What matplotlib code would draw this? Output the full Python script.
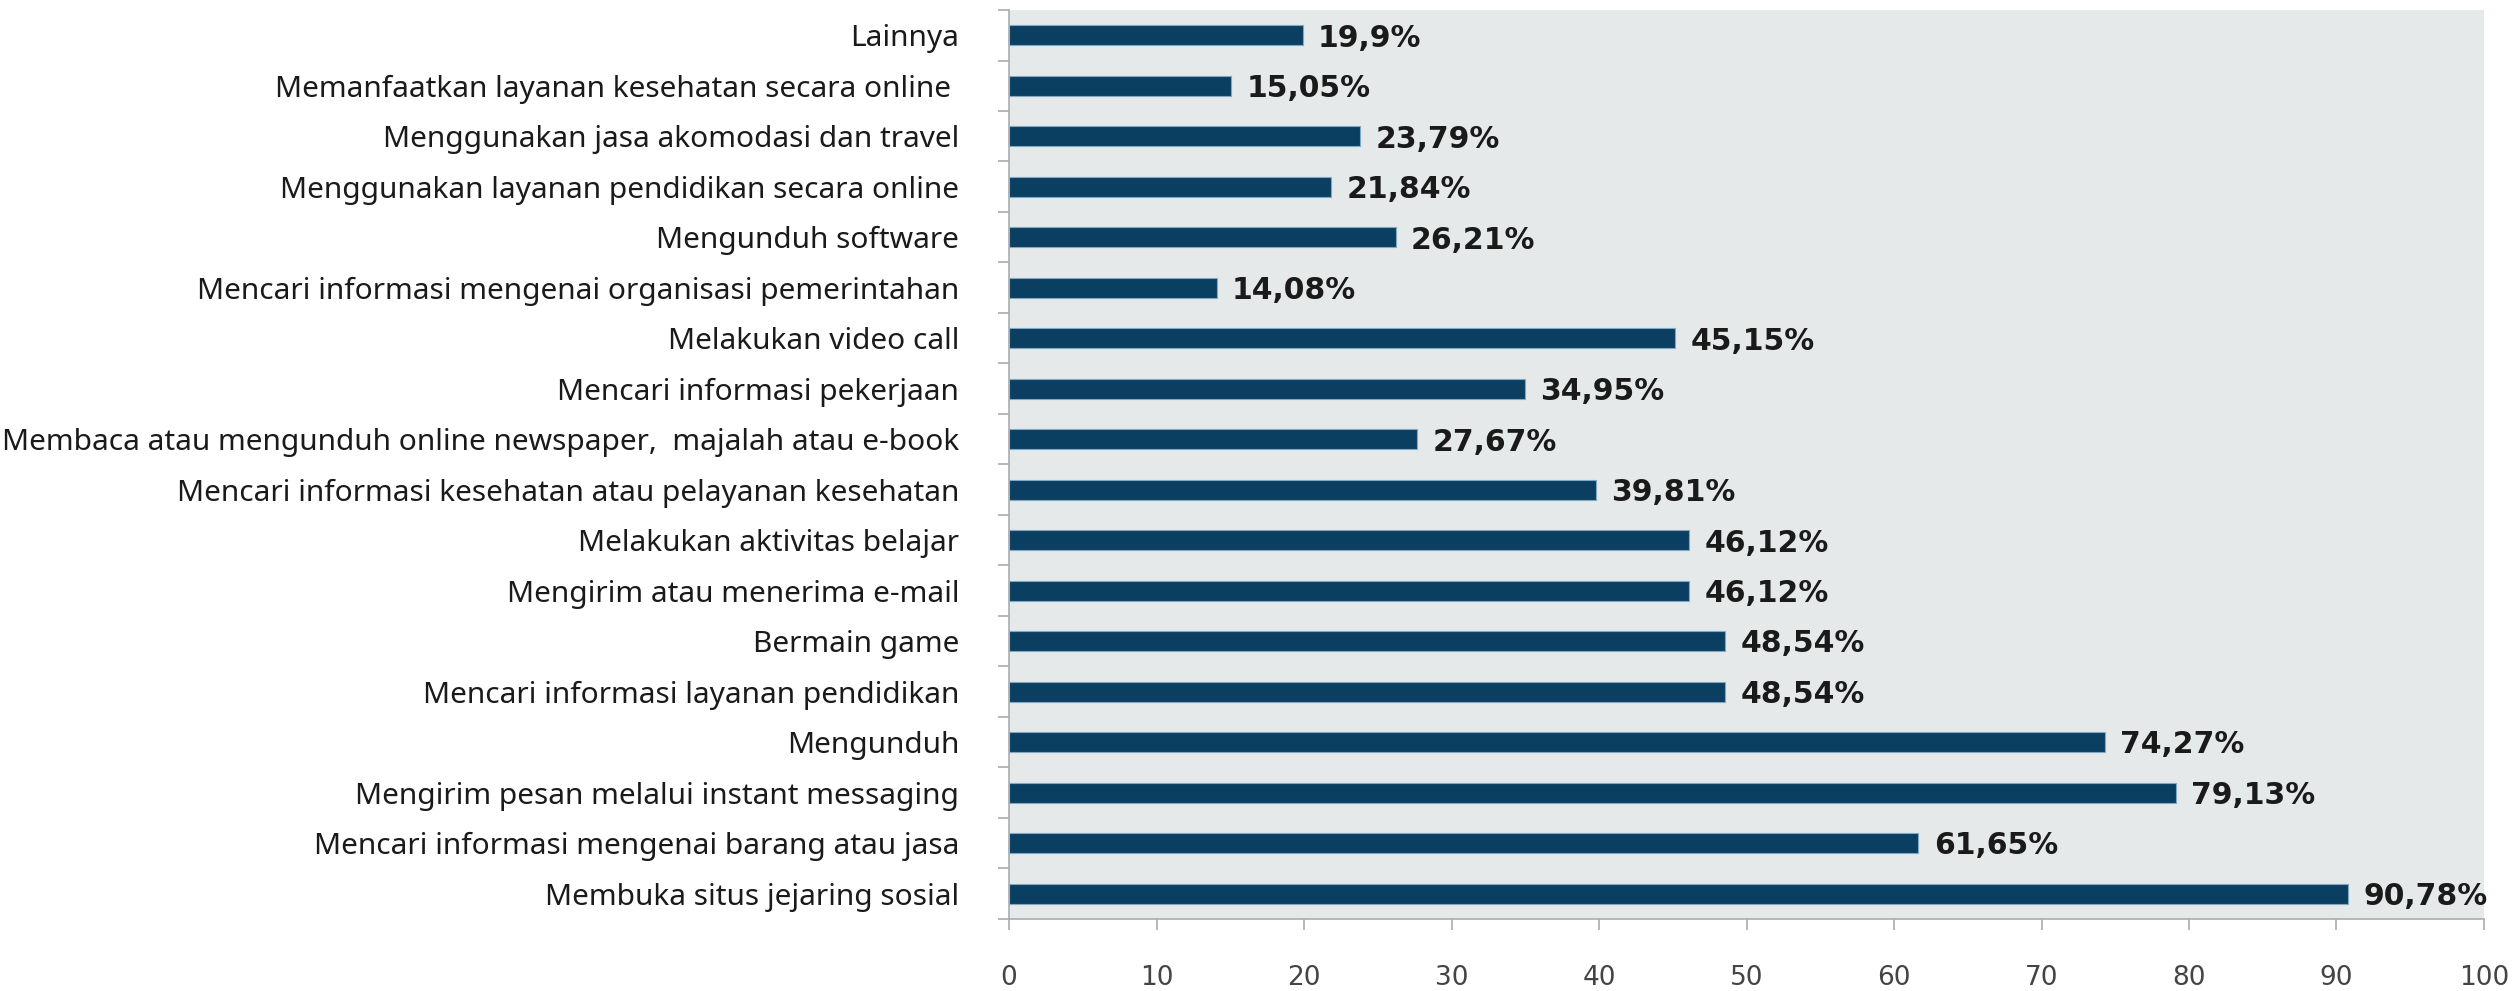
import matplotlib
matplotlib.use("Agg")
import matplotlib.pyplot as plt
import numpy as np

# data, bottom to top
categories = [
    "Membuka situs jejaring sosial",
    "Mencari informasi mengenai barang atau jasa",
    "Mengirim pesan melalui instant messaging",
    "Mengunduh",
    "Mencari informasi layanan pendidikan",
    "Bermain game",
    "Mengirim atau menerima e-mail",
    "Melakukan aktivitas belajar",
    "Mencari informasi kesehatan atau pelayanan kesehatan",
    "Membaca atau mengunduh online newspaper,  majalah atau e-book",
    "Mencari informasi pekerjaan",
    "Melakukan video call",
    "Mencari informasi mengenai organisasi pemerintahan",
    "Mengunduh software",
    "Menggunakan layanan pendidikan secara online",
    "Menggunakan jasa akomodasi dan travel",
    "Memanfaatkan layanan kesehatan secara online ",
    "Lainnya",
]
values = [90.78, 61.65, 79.13, 74.27, 48.54, 48.54, 46.12, 46.12, 39.81,
          27.67, 34.95, 45.15, 14.08, 26.21, 21.84, 23.79, 15.05, 19.9]
value_labels = ["90,78%", "61,65%", "79,13%", "74,27%", "48,54%", "48,54%",
                "46,12%", "46,12%", "39,81%", "27,67%", "34,95%", "45,15%",
                "14,08%", "26,21%", "21,84%", "23,79%", "15,05%", "19,9%"]
xticks = [0, 10, 20, 30, 40, 50, 60, 70, 80, 90, 100]

BAR_COLOR = "#0b3f62"
GRID_GRAY = "#a9adb0"

fig = plt.figure(figsize=(25.19, 9.91), dpi=100)
ax = fig.add_axes([0.4006, 0.0727, 0.5855, 0.9172])
ax.set_facecolor("#e5e9e9")

y = np.arange(len(categories))
ax.barh(y, values, height=0.4, color=BAR_COLOR, edgecolor="#7fa8c4", linewidth=0.8)

for yi, v, lab in zip(y, values, value_labels):
    ax.annotate(lab, (v, yi), xytext=(11, -2), textcoords="offset points",
                va="center", ha="left", fontsize=21.5, fontweight="bold",
                color="#1a1a1a", family="DejaVu Sans")

ax.set_xlim(0, 100)
ax.set_ylim(-0.5, len(categories) - 0.5)
ax.set_xticks(xticks)
ax.set_xticklabels([str(t) for t in xticks], fontsize=19, color="#444444",
                   family="DejaVu Sans")
ax.set_yticks(y)
ax.set_yticklabels(categories, fontsize=21.5, color="#1a1a1a", family="Noto Sans")
ax.set_yticks(np.arange(len(categories) + 1) - 0.5, minor=True)

ax.tick_params(axis="y", which="major", length=0, pad=36)
ax.tick_params(axis="y", which="minor", length=8, color=GRID_GRAY, width=1.2)
ax.tick_params(axis="x", length=8, color=GRID_GRAY, width=1.2, pad=25)

for s in ["top", "right"]:
    ax.spines[s].set_visible(False)
for s in ["left", "bottom"]:
    ax.spines[s].set_color(GRID_GRAY)
    ax.spines[s].set_linewidth(1.2)

fig.savefig("out.png", dpi=100, facecolor="white")
